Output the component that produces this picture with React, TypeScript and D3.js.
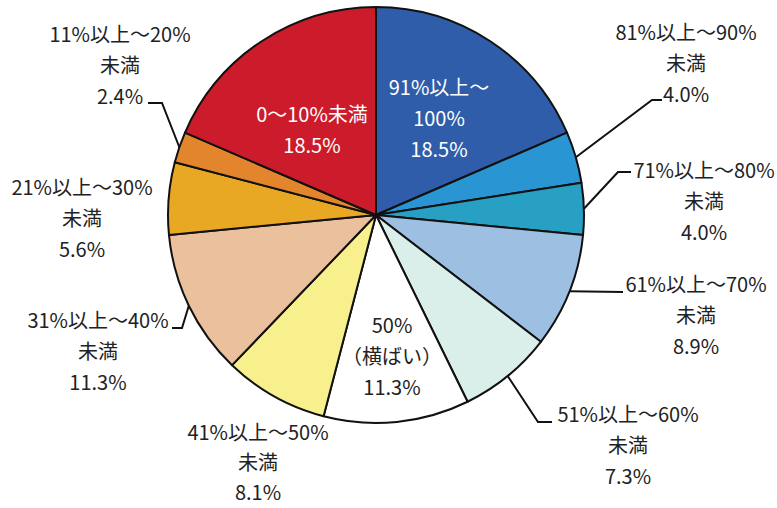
import React from "react";
import * as d3 from "d3";

const categories = [
  "91%以上～100%",
  "81%以上～90%未満",
  "71%以上～80%未満",
  "61%以上～70%未満",
  "51%以上～60%未満",
  "50%（横ばい）",
  "41%以上～50%未満",
  "31%以上～40%未満",
  "21%以上～30%未満",
  "11%以上～20%未満",
  "0～10%未満",
];
const values = [18.5, 4.0, 4.0, 8.9, 7.3, 11.3, 8.1, 11.3, 5.6, 2.4, 18.5];
const labelLines = [
  ["91%以上～", "100%", "18.5%"],
  ["81%以上～90%", "未満", "4.0%"],
  ["71%以上～80%", "未満", "4.0%"],
  ["61%以上～70%", "未満", "8.9%"],
  ["51%以上～60%", "未満", "7.3%"],
  ["50%", "（横ばい）", "11.3%"],
  ["41%以上～50%", "未満", "8.1%"],
  ["31%以上～40%", "未満", "11.3%"],
  ["21%以上～30%", "未満", "5.6%"],
  ["11%以上～20%", "未満", "2.4%"],
  ["0～10%未満", "18.5%"],
];
const colors = [
  "#2F5DA9",
  "#2A95D3",
  "#27A0C4",
  "#9CBFE2",
  "#DAEEEA",
  "#FFFFFF",
  "#F7F08C",
  "#EBC09C",
  "#E8A823",
  "#E3852C",
  "#CC1B2B",
];

// layout: label center x, first baseline y, text color, leader points (from label side), or null
const labelLayout: { x: number; y: number; fill: string; leader: [number, number][] | null }[] = [
  { x: 439, y: 95, fill: "#fff", leader: null },
  { x: 686, y: 40, fill: "#222", leader: [[662, 100], [652, 100]] },
  { x: 704, y: 178, fill: "#222", leader: [[631, 172], [618, 172]] },
  { x: 696, y: 292, fill: "#222", leader: [[623, 292]] },
  { x: 628, y: 422, fill: "#222", leader: [[552, 422], [538, 422]] },
  { x: 392, y: 333, fill: "#222", leader: null },
  { x: 258, y: 440, fill: "#222", leader: null },
  { x: 98, y: 328, fill: "#222", leader: [[172, 328], [182, 328]] },
  { x: 82, y: 195, fill: "#222", leader: null },
  { x: 120, y: 42, fill: "#222", leader: [[148, 103], [162, 103]] },
  { x: 312, y: 122, fill: "#fff", leader: null },
];

export default function App() {
  const width = 777;
  const height = 508;
  const cx = 376;
  const cy = 215;
  const r = 208;
  const pie = d3.pie<number>().sort(null).value((d) => d);
  const arcs = pie(values);
  const arcGen = d3.arc<d3.PieArcDatum<number>>().innerRadius(0).outerRadius(r);
  const font = "'Noto Sans CJK JP', 'Noto Sans', sans-serif";

  return (
    <svg width={width} height={height} style={{ position: "absolute", left: 0, top: 0, background: "#fff" }}>
      <g transform={`translate(${cx},${cy})`}>
        {arcs.map((a, i) => (
          <path key={categories[i]} d={arcGen(a) || ""} fill={colors[i]} stroke="#111" strokeWidth={2} strokeLinejoin="round" />
        ))}
      </g>
      {arcs.map((a, i) => {
        const lay = labelLayout[i];
        if (!lay.leader) return null;
        const mid = (a.startAngle + a.endAngle) / 2;
        const ex = cx + r * Math.sin(mid);
        const ey = cy - r * Math.cos(mid);
        const pts = [...lay.leader, [ex, ey]] as [number, number][];
        const line = d3.line()(pts) || "";
        return <path key={"l" + i} d={line} fill="none" stroke="#111" strokeWidth={2} />;
      })}
      {labelLines.map((lines, i) => {
        const lay = labelLayout[i];
        const lineH = i === 6 ? 30 : 31;
        return (
          <text key={"t" + i} fontFamily={font} fontSize={20} fill={lay.fill} textAnchor="middle">
            {lines.map((s, j) => (
              <tspan key={j} x={lay.x} y={lay.y + j * lineH}>
                {s}
              </tspan>
            ))}
          </text>
        );
      })}
    </svg>
  );
}
